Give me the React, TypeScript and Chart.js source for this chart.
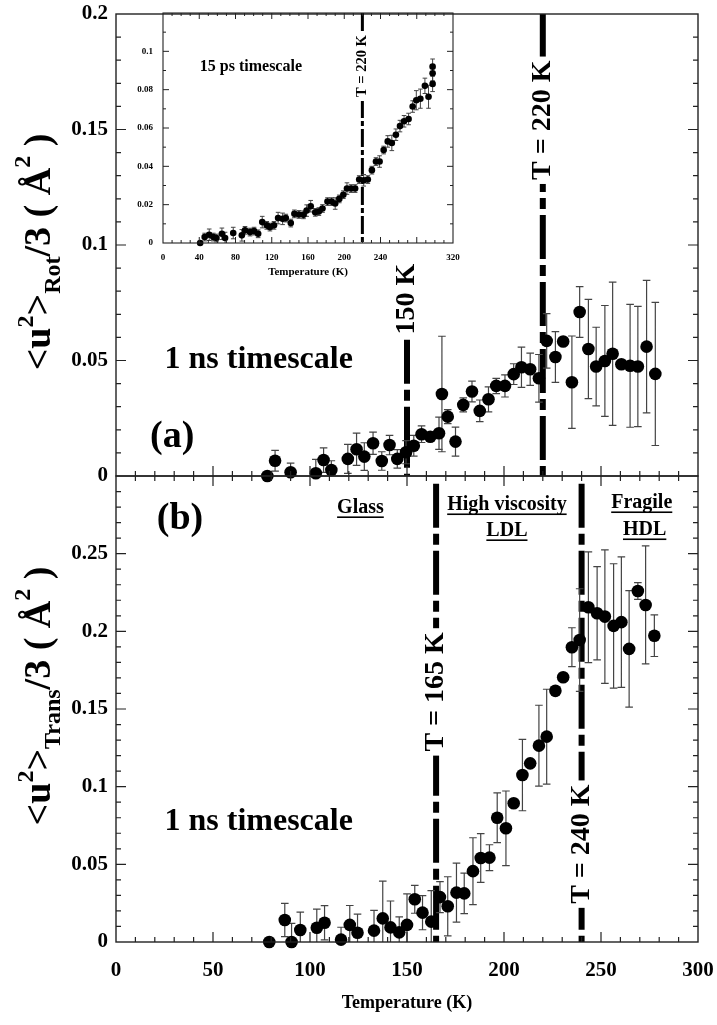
import { useEffect, useRef } from "react";
import { Chart, registerables } from "chart.js";

Chart.register(...registerables);

const SERIF = '"Liberation Serif", "Times New Roman", serif';

// (a) rotational <u2>/3, 1 ns timescale
const tempRot = [78, 82, 90, 103, 107, 111, 119.5, 124, 128, 132.5, 137, 141, 145, 149.5, 153.5, 157.5, 162, 166.5, 168, 171, 175, 179, 183.5, 187.5, 192, 196, 200.5, 205, 209, 213.5, 218, 222, 226.5, 230.5, 235, 239, 243.5, 247.5, 252, 256, 260.5, 265, 269, 273.5, 278];
const msdRot = [0, 0.0066, 0.0016, 0.0012, 0.0069, 0.0026, 0.0074, 0.0116, 0.0084, 0.0142, 0.0065, 0.0134, 0.0074, 0.0103, 0.0131, 0.0181, 0.017, 0.0185, 0.0355, 0.0257, 0.0149, 0.0308, 0.0366, 0.0282, 0.0332, 0.039, 0.039, 0.0441, 0.0471, 0.0462, 0.0423, 0.0585, 0.0515, 0.0582, 0.0406, 0.071, 0.055, 0.0474, 0.0498, 0.0529, 0.0484, 0.0477, 0.0474, 0.056, 0.0442];
const errRot = [0, 0.0045, 0.004, 0.006, 0.0053, 0.004, 0.0063, 0.007, 0.006, 0.0048, 0.004, 0.0042, 0.004, 0.005, 0.0045, 0.0036, 0.001, 0.007, 0.025, 0.003, 0.0063, 0.003, 0.0045, 0.0047, 0.0054, 0.0033, 0.0048, 0.0045, 0.0087, 0.007, 0.0103, 0.0118, 0.011, 0, 0.02, 0.011, 0.0215, 0.017, 0.024, 0.031, 0, 0.0266, 0.026, 0.0287, 0.031];

// (b) translational <u2>/3, 1 ns timescale
const tempTrans = [79, 87, 90.5, 95, 103.5, 107.5, 116, 120.5, 124.5, 133, 137.5, 141.5, 146, 150, 154, 158, 162.5, 167, 171, 175.5, 179.5, 184, 188, 192.5, 196.5, 201, 205, 209.5, 213.5, 218, 222, 226.5, 230.5, 235, 239, 243.5, 248, 252, 256.5, 260.5, 264.5, 269, 273, 277.5];
const msdTrans = [0, 0.0142, 0, 0.0077, 0.0092, 0.0124, 0.0015, 0.011, 0.006, 0.0073, 0.0152, 0.0094, 0.0062, 0.011, 0.0275, 0.0189, 0.0131, 0.0289, 0.023, 0.0318, 0.0313, 0.0456, 0.0541, 0.0543, 0.08, 0.0732, 0.0893, 0.1075, 0.115, 0.1264, 0.1322, 0.1617, 0.1704, 0.1898, 0.1944, 0.2155, 0.2116, 0.2095, 0.2035, 0.2059, 0.1887, 0.226, 0.217, 0.1972];
const errTrans = [0, 0.0107, 0.012, 0.0115, 0.012, 0.011, 0.008, 0.0125, 0.012, 0.013, 0.024, 0.017, 0.01, 0.02, 0.009, 0.011, 0.02, 0.01, 0.019, 0.019, 0.013, 0.0215, 0.0157, 0.0083, 0.016, 0.024, 0, 0.023, 0, 0.026, 0.0305, 0.002, 0.002, 0.0125, 0.033, 0.0357, 0.03, 0.043, 0.04, 0.042, 0.0375, 0.0054, 0.038, 0.0134];

// inset, 15 ps timescale
const tempFast = [41, 46, 51, 55.5, 59, 65, 68.5, 77.5, 87, 90.5, 96, 100.5, 105, 109.5, 114.5, 118, 122.5, 127, 132, 135.5, 141, 145, 150, 155, 158.5, 163, 168, 172, 176, 181.5, 186, 190, 194.5, 199, 203, 207.5, 212, 216.5, 221.5, 226, 230.5, 235, 239, 243.5, 248, 252.5, 257, 261.5, 266, 271, 275.5, 279.5, 284, 289, 293, 297.5, 297.5, 297.5];
const msdFast = [0, 0.0031, 0.0043, 0.0031, 0.0026, 0.0048, 0.0026, 0.0052, 0.004, 0.0066, 0.0057, 0.0062, 0.0048, 0.0109, 0.0092, 0.0083, 0.0092, 0.013, 0.0126, 0.013, 0.0104, 0.0152, 0.0149, 0.0147, 0.0169, 0.0192, 0.016, 0.0164, 0.018, 0.0216, 0.0216, 0.0206, 0.023, 0.0252, 0.0284, 0.0284, 0.0284, 0.0331, 0.0327, 0.0331, 0.038, 0.0425, 0.0425, 0.0485, 0.053, 0.0522, 0.0565, 0.061, 0.0635, 0.0647, 0.0712, 0.0745, 0.0753, 0.082, 0.0763, 0.092, 0.0886, 0.083];
const errFast = [0, 0.002, 0.003, 0.002, 0.002, 0.003, 0.003, 0.003, 0.003, 0.002, 0.002, 0.002, 0.002, 0.003, 0.002, 0.002, 0.002, 0.003, 0.003, 0.002, 0.002, 0.002, 0.002, 0.002, 0.003, 0.003, 0.002, 0.002, 0.002, 0.002, 0.002, 0.003, 0.002, 0.002, 0.003, 0.002, 0.002, 0.002, 0.003, 0.002, 0.002, 0.002, 0.003, 0.002, 0.003, 0.004, 0.003, 0.003, 0.003, 0.003, 0.003, 0.005, 0.005, 0.004, 0.006, 0.004, 0.004, 0.004];

// tick labels
const tempTicks = [0, 50, 100, 150, 200, 250, 300];
const rotTicks = [0, 0.05, 0.1, 0.15, 0.2];
const transTicks = [0, 0.05, 0.1, 0.15, 0.2, 0.25];
const fastTempTicks = [0, 40, 80, 120, 160, 200, 240, 320];
const fastTicks = [0, 0.02, 0.04, 0.06, 0.08, 0.1];

// dashed transition markers: [T, from, to]
const rotMarks = [[150, 0, 0.059], [220, 0, 0.2]];
const transMarks = [[165, 0, 0.295], [240, 0, 0.295]];
const fastMarks = [[220, 0, 0.12]];

const fmt = (v: number) => String(+v.toFixed(2));

const framePlugin = {
  id: "frame",
  afterDraw(chart: any, _a: any, o: any) {
    if (!o || !o.xMinor) return;
    const { ctx, chartArea: a } = chart;
    const xs = chart.scales.x, ys = chart.scales.y;
    ctx.save();
    ctx.strokeStyle = "#222";
    ctx.lineWidth = o.width || 1.4;
    ctx.strokeRect(a.left, a.top, a.right - a.left, a.bottom - a.top);
    ctx.lineWidth = o.tickWidth || 1.2;
    const each = (min: number, max: number, minor: number, major: number, fn: (v: number, m: boolean) => void) => {
      const n = Math.round((max - min) / minor);
      for (let k = 1; k < n; k++) {
        const v = min + k * minor;
        fn(v, Math.abs(v / major - Math.round(v / major)) < 1e-6);
      }
    };
    ctx.beginPath();
    each(xs.min, xs.max, o.xMinor, o.xMajor, (v, m) => {
      const px = xs.getPixelForValue(v);
      const len = m ? o.majorLen : o.minorLen;
      if (o.bottom) { ctx.moveTo(px, a.bottom); ctx.lineTo(px, a.bottom - len); }
      if (o.top) { ctx.moveTo(px, a.top); ctx.lineTo(px, a.top + len); }
    });
    each(ys.min, ys.max, o.yMinor, o.yMajor, (v, m) => {
      const py = ys.getPixelForValue(v);
      const len = m ? o.majorLen : o.minorLen;
      if (o.left) { ctx.moveTo(a.left, py); ctx.lineTo(a.left + len, py); }
      if (o.right) { ctx.moveTo(a.right, py); ctx.lineTo(a.right - len, py); }
    });
    ctx.stroke();
    ctx.restore();
  },
};

const errorBarPlugin = {
  id: "errbars",
  beforeDatasetDraw(chart: any, args: any) {
    const ds = chart.data.datasets[args.index];
    if (!ds.errors) return;
    const { ctx, chartArea: a } = chart;
    const xs = chart.scales.x, ys = chart.scales.y;
    ctx.save();
    ctx.beginPath();
    ctx.rect(a.left, a.top, a.right - a.left, a.bottom - a.top);
    ctx.clip();
    ctx.strokeStyle = "#444";
    ctx.lineWidth = ds.errWidth || 1.2;
    ctx.beginPath();
    ds.data.forEach((p: any, i: number) => {
      const e = ds.errors[i];
      if (!e) return;
      const px = xs.getPixelForValue(p.x);
      const hi = ys.getPixelForValue(p.y + e);
      const lo = ys.getPixelForValue(p.y - e);
      const c = ds.cap;
      ctx.moveTo(px, hi); ctx.lineTo(px, lo);
      ctx.moveTo(px - c, hi); ctx.lineTo(px + c, hi);
      ctx.moveTo(px - c, lo); ctx.lineTo(px + c, lo);
    });
    ctx.stroke();
    ctx.restore();
  },
};

const notesPlugin = {
  id: "notes",
  afterDatasetsDraw(chart: any, _a: any, o: any) {
    if (!o || !o.items) return;
    const { ctx } = chart;
    const xs = chart.scales.x, ys = chart.scales.y;
    for (const n of o.items) {
      const px = xs.getPixelForValue(n.x), py = ys.getPixelForValue(n.y);
      ctx.save();
      ctx.font = `bold ${n.size}px ${SERIF}`;
      ctx.textBaseline = "middle";
      ctx.textAlign = "left";
      ctx.translate(px, py);
      if (n.rotate) ctx.rotate(-Math.PI / 2);
      const w = ctx.measureText(n.text).width;
      const x0 = n.align === "left" ? 0 : -w / 2;
      if (n.box) {
        ctx.fillStyle = "#fff";
        ctx.fillRect(x0 - 4, -n.size * 0.45, w + 8, n.size * 0.9);
      }
      ctx.fillStyle = "#000";
      ctx.fillText(n.text, x0, 0);
      if (n.underline) ctx.fillRect(x0, n.size * 0.42, w, 1.6);
      ctx.restore();
    }
  },
};

const yTitlePlugin = {
  id: "ytitle",
  afterDraw(chart: any, _a: any, o: any) {
    if (!o || !o.parts) return;
    const { ctx } = chart;
    ctx.save();
    ctx.translate(o.x, o.y);
    ctx.rotate(-Math.PI / 2);
    ctx.fillStyle = "#000";
    ctx.textBaseline = "alphabetic";
    ctx.textAlign = "left";
    let total = 0;
    for (const p of o.parts) {
      ctx.font = `bold ${p.size}px ${SERIF}`;
      total += ctx.measureText(p.text).width;
    }
    let cx = -total / 2;
    for (const p of o.parts) {
      ctx.font = `bold ${p.size}px ${SERIF}`;
      ctx.fillText(p.text, cx, p.dy || 0);
      cx += ctx.measureText(p.text).width;
    }
    ctx.restore();
  },
};

Chart.register(framePlugin, errorBarPlugin, notesPlugin, yTitlePlugin);

function points(xs: number[], ys: number[], errs: number[], r: number, cap: number, errWidth = 1.2) {
  return {
    type: "scatter",
    data: xs.map((x, i) => ({ x, y: ys[i] })),
    errors: errs,
    cap,
    errWidth,
    pointRadius: r,
    pointHoverRadius: r,
    backgroundColor: "#000",
    borderColor: "#000",
    borderWidth: 0,
    clip: false,
    order: 0,
  };
}

function marker(m: number[], width: number, dash: number[]) {
  return {
    type: "line",
    data: [{ x: m[0], y: m[2] }, { x: m[0], y: m[1] }],
    borderColor: "#000",
    borderWidth: width,
    borderDash: dash,
    borderCapStyle: "butt",
    pointRadius: 0,
    fill: false,
    order: 1,
  };
}

const tickFont = { family: SERIF, weight: "bold" as const, size: 21 };
const mainDash = [44, 6, 11, 6];

// pin the plot area: no extra room for first/last tick labels
const fixX = (h: number) => (s: any) => { s.height = h; s.paddingLeft = 0; s.paddingRight = 0; };
const fixY = (w: number) => (s: any) => { s.width = w; s.paddingTop = 0; s.paddingBottom = 0; };

function titleParts(sub: string, big: number, small: number) {
  return [
    { text: "<u", size: big },
    { text: "2", size: small, dy: -17 },
    { text: ">", size: big },
    { text: sub, size: small, dy: 10 },
    { text: "/3 ( ", size: big },
    { text: "Å", size: big },
    { text: "2", size: small, dy: -20 },
    { text: " )", size: big },
  ];
}

function panelA(): any {
  return {
    type: "scatter",
    data: {
      datasets: [
        points(tempRot, msdRot, errRot, 6.3, 3.8),
        ...rotMarks.map((m) => marker(m, 6, mainDash)),
      ],
    },
    options: {
      responsive: false,
      animation: false,
      events: [],
      layout: { padding: { top: 14, right: 19, left: 0, bottom: 0 } },
      scales: {
        x: {
          type: "linear", min: 0, max: 300,
          afterBuildTicks: (s: any) => { s.ticks = tempTicks.map((value) => ({ value })); },
          afterFit: fixX(14),
          ticks: { display: false },
          grid: { display: false, drawTicks: false },
          border: { display: false },
        },
        y: {
          type: "linear", min: 0, max: 0.2,
          afterBuildTicks: (s: any) => { s.ticks = rotTicks.map((value) => ({ value })); },
          afterFit: fixY(116),
          ticks: { font: tickFont, color: "#000", padding: 8, callback: (v: any) => fmt(Number(v)) },
          grid: { display: false, drawTicks: false },
          border: { display: false },
        },
      },
      plugins: {
        legend: { display: false },
        tooltip: { enabled: false },
        frame: { xMinor: 10, xMajor: 50, yMinor: 0.01, yMajor: 0.05, majorLen: 10, minorLen: 5, bottom: true, left: true, right: true },
        notes: {
          items: [
            { text: "(a)", x: 29, y: 0.017, size: 38 },
            { text: "1 ns timescale", x: 25, y: 0.0502, size: 32, align: "left" },
            { text: "150 K", x: 150, y: 0.0766, size: 28, rotate: true },
            { text: "T = 220 K", x: 220, y: 0.154, size: 28, rotate: true, box: true },
          ],
        },
        ytitle: { x: 50, y: 252, parts: titleParts("Rot", 38, 24) },
      },
    },
  };
}

function panelB(): any {
  return {
    type: "scatter",
    data: {
      datasets: [
        points(tempTrans, msdTrans, errTrans, 6.3, 3.8),
        ...transMarks.map((m) => marker(m, 6, mainDash)),
      ],
    },
    options: {
      responsive: false,
      animation: false,
      events: [],
      layout: { padding: { top: 14, right: 19, left: 0, bottom: 0 } },
      scales: {
        x: {
          type: "linear", min: 0, max: 300,
          afterBuildTicks: (s: any) => { s.ticks = tempTicks.map((value) => ({ value })); },
          afterFit: fixX(83),
          ticks: { font: tickFont, color: "#000", padding: 16, maxRotation: 0, callback: (v: any) => fmt(Number(v)) },
          title: { display: true, text: "Temperature (K)", color: "#000", font: { family: SERIF, weight: "bold", size: 18 }, padding: { top: 0, bottom: 11 } },
          grid: { display: false, drawTicks: false },
          border: { display: false },
        },
        y: {
          type: "linear", min: 0, max: 0.3,
          afterBuildTicks: (s: any) => { s.ticks = transTicks.map((value) => ({ value })); },
          afterFit: fixY(116),
          ticks: { font: tickFont, color: "#000", padding: 8, callback: (v: any) => fmt(Number(v)) },
          grid: { display: false, drawTicks: false },
          border: { display: false },
        },
      },
      plugins: {
        legend: { display: false },
        tooltip: { enabled: false },
        frame: { xMinor: 10, xMajor: 50, yMinor: 0.01, yMajor: 0.05, majorLen: 10, minorLen: 5, bottom: true, top: true, left: true, right: true },
        notes: {
          items: [
            { text: "(b)", x: 33, y: 0.272, size: 38 },
            { text: "Glass", x: 126, y: 0.2794, size: 20, underline: true },
            { text: "High viscosity", x: 201.5, y: 0.2813, size: 20, underline: true },
            { text: "LDL", x: 201.5, y: 0.2646, size: 20, underline: true },
            { text: "Fragile", x: 271, y: 0.2826, size: 20, underline: true },
            { text: "HDL", x: 272.5, y: 0.2652, size: 20, underline: true },
            { text: "1 ns timescale", x: 25, y: 0.0773, size: 32, align: "left" },
            { text: "T = 165 K", x: 165, y: 0.161, size: 28, rotate: true, box: true },
            { text: "T = 240 K", x: 240, y: 0.063, size: 28, rotate: true, box: true },
          ],
        },
        ytitle: { x: 50, y: 234, parts: titleParts("Trans", 38, 24) },
      },
    },
  };
}

function inset(): any {
  const small = { family: SERIF, weight: "bold" as const, size: 9 };
  return {
    type: "scatter",
    data: {
      datasets: [
        points(tempFast, msdFast, errFast, 3.3, 2.3, 1),
        ...fastMarks.map((m) => marker(m, 3, [18, 3, 5, 3])),
      ],
    },
    options: {
      responsive: false,
      animation: false,
      events: [],
      layout: { padding: { top: 13, right: 12, left: 0, bottom: 0 } },
      scales: {
        x: {
          type: "linear", min: 0, max: 320,
          afterBuildTicks: (s: any) => { s.ticks = fastTempTicks.map((value) => ({ value })); },
          afterFit: fixX(42),
          ticks: { font: small, color: "#000", padding: 9, maxRotation: 0, autoSkip: false, callback: (v: any) => fmt(Number(v)) },
          title: { display: true, text: "Temperature (K)", color: "#000", font: { family: SERIF, weight: "bold", size: 11 }, padding: { top: 0, bottom: 6 } },
          grid: { display: false, drawTicks: false },
          border: { display: false },
        },
        y: {
          type: "linear", min: 0, max: 0.12,
          afterBuildTicks: (s: any) => { s.ticks = fastTicks.map((value) => ({ value })); },
          afterFit: fixY(43),
          ticks: { font: small, color: "#000", padding: 10, callback: (v: any) => fmt(Number(v)) },
          grid: { display: false, drawTicks: false },
          border: { display: false },
        },
      },
      plugins: {
        legend: { display: false },
        tooltip: { enabled: false },
        frame: { xMinor: 10, xMajor: 40, yMinor: 0.01, yMajor: 0.02, majorLen: 6, minorLen: 3, width: 1.1, tickWidth: 1, bottom: true, top: true, left: true, right: true },
        notes: {
          items: [
            { text: "15 ps timescale", x: 97, y: 0.0917, size: 16 },
            { text: "T = 220 K", x: 220, y: 0.0923, size: 14.5, rotate: true, box: true },
          ],
        },
      },
    },
  };
}

function ChartCanvas({ build, left, top, width, height }: { build: () => any; left: number; top: number; width: number; height: number }) {
  const ref = useRef<HTMLCanvasElement>(null);
  useEffect(() => {
    if (!ref.current) return;
    const chart = new Chart(ref.current, build());
    return () => chart.destroy();
  }, []);
  return <canvas ref={ref} width={width} height={height} style={{ position: "absolute", left, top, width, height }} />;
}

export default function App() {
  return (
    <div style={{ position: "absolute", left: 0, top: 0, width: 717, height: 1025, background: "#fff", overflow: "hidden" }}>
      <ChartCanvas build={panelA} left={0} top={0} width={717} height={490} />
      <ChartCanvas build={panelB} left={0} top={462} width={717} height={563} />
      <ChartCanvas build={inset} left={120} top={0} width={345} height={285} />
    </div>
  );
}
